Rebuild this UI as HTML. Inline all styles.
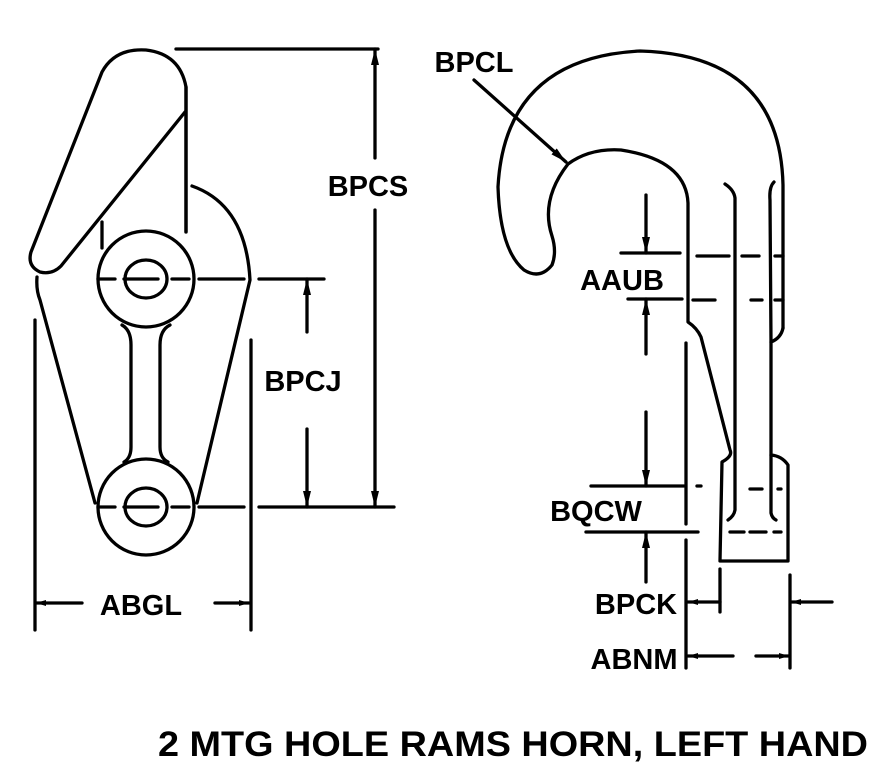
<!DOCTYPE html>
<html><head><meta charset="utf-8"><style>
html,body{margin:0;padding:0;background:#fff;}
svg{display:block;}
text{font-family:"Liberation Sans",Arial,sans-serif;font-weight:bold;fill:#000;}
</style></head><body>
<svg width="886" height="774" viewBox="0 0 886 774" xmlns="http://www.w3.org/2000/svg">
<defs>
<marker id="a" viewBox="0 0 10 6" refX="10" refY="3" markerWidth="10" markerHeight="6" markerUnits="userSpaceOnUse" orient="auto"><path d="M0,0 L10,3 L0,6 z" fill="#000"/></marker>
<marker id="b" viewBox="0 0 16 8" refX="16" refY="4" markerWidth="16" markerHeight="8" markerUnits="userSpaceOnUse" orient="auto"><path d="M0,0 L16,4 L0,8 z" fill="#000"/></marker>
</defs>
<g fill="none" stroke="#000" stroke-width="3.3" stroke-linecap="round" stroke-linejoin="round">
<path d="M185,112 L61,266 Q52,275 40,272 Q27,266 31,252 L102,72 Q115,48 146,50 Q180,54 186,87 L186,232"/>
<path d="M102,222 L102,248"/>
<path d="M192,186 Q246,205 250,280 L197,503"/>
<path d="M37,277 Q36,290 40,300 L95,503"/>
<circle cx="146" cy="279" r="48" fill="#fff"/>
<circle cx="146" cy="507" r="48" fill="#fff"/>
<ellipse cx="146" cy="279" rx="21" ry="19"/>
<ellipse cx="146" cy="507" rx="21" ry="19"/>
<path d="M186,87 L186,232" />
<path d="M122,325 Q131,330 131,345 L131,447 Q131,458 124,462"/>
<path d="M170,325 Q160,330 160,345 L160,447 Q160,458 168,462"/>
<path d="M98,279 H115 M124,279 H158 M172,279 H189 M199,279 H244 M259,279 H324" />
<path d="M98,507 H115 M124,507 H158 M172,507 H189 M199,507 H244 M259,507 H394" />
<path d="M176,49 H378"/>
<path d="M375,158 V49" marker-end="url(#b)"/>
<path d="M375,210 V507" marker-end="url(#b)"/>
<path d="M307,332 V279" marker-end="url(#b)"/>
<path d="M307,429 V507" marker-end="url(#b)"/>
<path d="M35,320 V630 M251,340 V630"/>
<path d="M82,603 H36" marker-end="url(#a)"/>
<path d="M215,603 H249" marker-end="url(#a)"/>

<path d="M783,328 L783,185 Q780,55 640,51 Q505,58 498,187 Q500,250 524,270 Q540,280 552,265 Q557,252 552,236 Q540,200 568,164 Q590,148 621,150 Q686,160 688,203 L688,322 Q697,328 701,337 L730,450 Q733,456 722,462 L720,561 L788,561 L788,465 Q782,456 771,455"/>
<path d="M783,328 Q781,338 771,342 L771,513 Q772,518 776,520"/>
<path d="M774,182 Q769,187 770,200 L771,342"/>
<path d="M725,184 Q734,190 735,198 L735,510 Q734,516 728,520"/>
<path d="M697,256 H729 M742,256 H759 M775,256 H783"/>
<path d="M693,300 H715 M751,300 H762 M775,300 H783"/>
<path d="M750,489 H762 M778,489 H781"/>
<path d="M730,532 H744 M750,532 H766 M774,532 H781"/>
<path d="M621,253 H680"/>
<path d="M628,299 H682"/>
<path d="M646,195 V253" marker-end="url(#b)"/>
<path d="M646,354 V299" marker-end="url(#b)"/>
<path d="M591,486 H684 M697,486 H701"/>
<path d="M586,532 H698"/>
<path d="M646,412 V486" marker-end="url(#b)"/>
<path d="M646,582 V532" marker-end="url(#b)"/>
<path d="M686,343 V524 M686,540 V668"/>
<path d="M720,569 V612 M790,575 V668"/>
<path d="M720,602 H688" marker-end="url(#a)"/>
<path d="M832,602 H791" marker-end="url(#a)"/>
<path d="M733,656 H688" marker-end="url(#a)"/>
<path d="M756,656 H789" marker-end="url(#a)"/>
<path d="M474,80 L566,162" marker-end="url(#b)"/>
</g>
<g font-size="29">
<text x="368" y="196" text-anchor="middle">BPCS</text>
<text x="303" y="391" text-anchor="middle">BPCJ</text>
<text x="141" y="615" text-anchor="middle">ABGL</text>
<text x="474" y="72" text-anchor="middle">BPCL</text>
<text x="622" y="290" text-anchor="middle">AAUB</text>
<text x="596" y="521" text-anchor="middle">BQCW</text>
<text x="636" y="614" text-anchor="middle">BPCK</text>
<text x="634" y="669" text-anchor="middle">ABNM</text>
</g>
<text x="158" y="756" font-size="35" textLength="710" lengthAdjust="spacingAndGlyphs">2 MTG HOLE RAMS HORN, LEFT HAND</text>
</svg>
</body></html>
